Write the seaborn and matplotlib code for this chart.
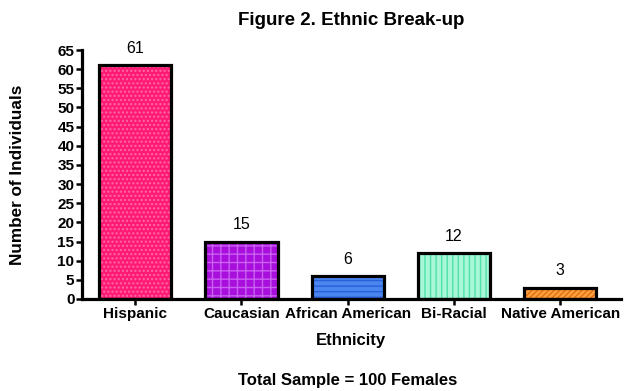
import matplotlib
matplotlib.use("Agg")
import matplotlib.pyplot as plt
import seaborn as sns
import pandas as pd

categories = ["Hispanic", "Caucasian", "African American", "Bi-Racial", "Native American"]
counts = [61, 15, 6, 12, 3]
fill_colors = ["#FF1A75", "#A80EDC", "#4A86F0", "#A8F8D8", "#FFA040"]
hatch_colors = ["#FF6AA4", "#C860F0", "#2A60D8", "#50E0A8", "#E07010"]
hatches = ["....", "++", "---", "|||", "//////"]
yticks = list(range(0, 70, 5))

sns.set_theme(style="white")
plt.rcParams["font.family"] = ["Liberation Sans", "DejaVu Sans"]
plt.rcParams["hatch.linewidth"] = 1.0
plt.rcParams["text.color"] = "black"
plt.rcParams["axes.labelcolor"] = "black"
plt.rcParams["xtick.color"] = "black"
plt.rcParams["ytick.color"] = "black"

df = pd.DataFrame({"Ethnicity": categories, "Count": counts})

fig = plt.figure(figsize=(6.29, 3.91), dpi=100)
ax = fig.add_axes([0.1304, 0.2353, 0.8566, 0.6368])

sns.barplot(data=df, x="Ethnicity", y="Count", hue="Ethnicity", palette=fill_colors,
            legend=False, width=0.68, ax=ax, saturation=1)

for p, hc, h in zip(ax.patches, hatch_colors, hatches):
    p.set_edgecolor(hc)
    p.set_hatch(h)
    p.set_linewidth(0)

# black outlines
ax.bar(range(len(categories)), counts, width=0.68, fill=False, edgecolor="black",
       linewidth=2.3, zorder=3)

for i, v in enumerate(counts):
    ax.annotate(str(v), (i, v), xytext=(0, 12), textcoords="offset points",
                ha="center", va="center", fontsize=11.5, color="black")

ax.set_xlim(-0.5, 4.57)
ax.set_ylim(0, 65)
ax.set_yticks(yticks)
ax.set_yticklabels([str(t) for t in yticks], fontweight="bold", fontsize=11)
ax.set_xticks(range(len(categories)))
ax.set_xticklabels(categories, fontweight="bold", fontsize=11)

for s in ["top", "right"]:
    ax.spines[s].set_visible(False)
for s in ["left", "bottom"]:
    ax.spines[s].set_linewidth(2.3)
    ax.spines[s].set_color("black")
ax.tick_params(axis="both", direction="out", length=4, width=1.8, color="black",
               pad=1.5, left=True, bottom=True)

ax.set_xlabel("Ethnicity", fontweight="bold", fontsize=12)
ax.set_ylabel("Number of Individuals", fontweight="bold", fontsize=12.3)
ax.xaxis.set_label_coords(0.5, -0.165)
ax.xaxis.label.set_va("center")
ax.yaxis.set_label_coords(-0.119, 0.5)
ax.yaxis.label.set_va("center")
ax.set_title("Figure 2. Ethnic Break-up", fontweight="bold", fontsize=13.5,
             y=1.12, pad=0, va="center")
fig.text(0.552, 0.028, "Total Sample = 100 Females", ha="center", va="center",
         fontweight="bold", fontsize=12)

fig.savefig("out.png", dpi=100)
